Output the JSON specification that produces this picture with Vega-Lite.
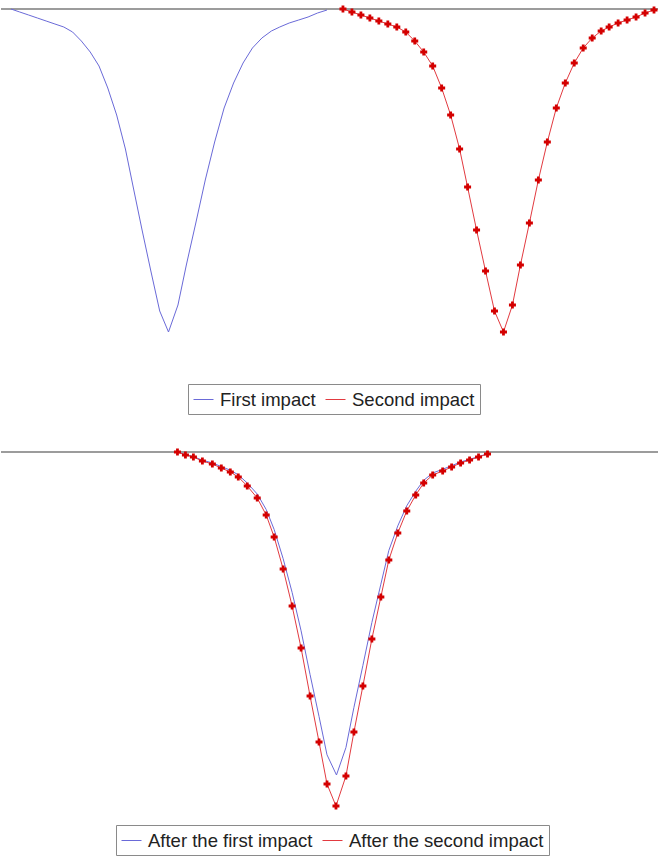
{
  "$schema": "https://vega.github.io/schema/vega-lite/v6.json",
  "width": 659,
  "height": 860,
  "padding": 0,
  "autosize": {"type": "fit", "contains": "padding"},
  "config": {"view": {"strokeWidth": 0}},
  "data": {"values": [
    {"panel": "top", "series": "First impact", "x": 0, "y": 0},
    {"panel": "top", "series": "First impact", "x": 8.8, "y": -3},
    {"panel": "top", "series": "First impact", "x": 17.7, "y": -6},
    {"panel": "top", "series": "First impact", "x": 26.5, "y": -9},
    {"panel": "top", "series": "First impact", "x": 35.3, "y": -12},
    {"panel": "top", "series": "First impact", "x": 44.1, "y": -15},
    {"panel": "top", "series": "First impact", "x": 53, "y": -18},
    {"panel": "top", "series": "First impact", "x": 61.8, "y": -23},
    {"panel": "top", "series": "First impact", "x": 70.6, "y": -32},
    {"panel": "top", "series": "First impact", "x": 79.5, "y": -43},
    {"panel": "top", "series": "First impact", "x": 88.3, "y": -57},
    {"panel": "top", "series": "First impact", "x": 97.1, "y": -79},
    {"panel": "top", "series": "First impact", "x": 106, "y": -106},
    {"panel": "top", "series": "First impact", "x": 114.8, "y": -140},
    {"panel": "top", "series": "First impact", "x": 122.6, "y": -178},
    {"panel": "top", "series": "First impact", "x": 131.5, "y": -221},
    {"panel": "top", "series": "First impact", "x": 140.3, "y": -262},
    {"panel": "top", "series": "First impact", "x": 149.2, "y": -302},
    {"panel": "top", "series": "First impact", "x": 158, "y": -323},
    {"panel": "top", "series": "First impact", "x": 167.5, "y": -296},
    {"panel": "top", "series": "First impact", "x": 175.9, "y": -256},
    {"panel": "top", "series": "First impact", "x": 185.4, "y": -214},
    {"panel": "top", "series": "First impact", "x": 194.9, "y": -171},
    {"panel": "top", "series": "First impact", "x": 204.3, "y": -133},
    {"panel": "top", "series": "First impact", "x": 213.8, "y": -99},
    {"panel": "top", "series": "First impact", "x": 223.3, "y": -74},
    {"panel": "top", "series": "First impact", "x": 232.8, "y": -54},
    {"panel": "top", "series": "First impact", "x": 242.2, "y": -39},
    {"panel": "top", "series": "First impact", "x": 251.7, "y": -29},
    {"panel": "top", "series": "First impact", "x": 261.2, "y": -22},
    {"panel": "top", "series": "First impact", "x": 269.6, "y": -18},
    {"panel": "top", "series": "First impact", "x": 279.1, "y": -14},
    {"panel": "top", "series": "First impact", "x": 288.6, "y": -11},
    {"panel": "top", "series": "First impact", "x": 298, "y": -8},
    {"panel": "top", "series": "First impact", "x": 307.5, "y": -4},
    {"panel": "top", "series": "First impact", "x": 317, "y": -1},
    {"panel": "top", "series": "Second impact", "x": 333, "y": 0},
    {"panel": "top", "series": "Second impact", "x": 342, "y": -3},
    {"panel": "top", "series": "Second impact", "x": 351, "y": -6},
    {"panel": "top", "series": "Second impact", "x": 360, "y": -9},
    {"panel": "top", "series": "Second impact", "x": 369, "y": -12},
    {"panel": "top", "series": "Second impact", "x": 378, "y": -15},
    {"panel": "top", "series": "Second impact", "x": 387, "y": -18},
    {"panel": "top", "series": "Second impact", "x": 396, "y": -23},
    {"panel": "top", "series": "Second impact", "x": 405, "y": -32},
    {"panel": "top", "series": "Second impact", "x": 414, "y": -43},
    {"panel": "top", "series": "Second impact", "x": 423, "y": -57},
    {"panel": "top", "series": "Second impact", "x": 432, "y": -79},
    {"panel": "top", "series": "Second impact", "x": 441, "y": -106},
    {"panel": "top", "series": "Second impact", "x": 450, "y": -140},
    {"panel": "top", "series": "Second impact", "x": 458, "y": -178},
    {"panel": "top", "series": "Second impact", "x": 467, "y": -221},
    {"panel": "top", "series": "Second impact", "x": 476, "y": -262},
    {"panel": "top", "series": "Second impact", "x": 485, "y": -302},
    {"panel": "top", "series": "Second impact", "x": 494, "y": -323},
    {"panel": "top", "series": "Second impact", "x": 503, "y": -296},
    {"panel": "top", "series": "Second impact", "x": 511, "y": -256},
    {"panel": "top", "series": "Second impact", "x": 520, "y": -214},
    {"panel": "top", "series": "Second impact", "x": 529, "y": -171},
    {"panel": "top", "series": "Second impact", "x": 538, "y": -133},
    {"panel": "top", "series": "Second impact", "x": 547, "y": -99},
    {"panel": "top", "series": "Second impact", "x": 556, "y": -74},
    {"panel": "top", "series": "Second impact", "x": 565, "y": -54},
    {"panel": "top", "series": "Second impact", "x": 574, "y": -39},
    {"panel": "top", "series": "Second impact", "x": 583, "y": -29},
    {"panel": "top", "series": "Second impact", "x": 592, "y": -22},
    {"panel": "top", "series": "Second impact", "x": 600, "y": -18},
    {"panel": "top", "series": "Second impact", "x": 609, "y": -14},
    {"panel": "top", "series": "Second impact", "x": 618, "y": -11},
    {"panel": "top", "series": "Second impact", "x": 627, "y": -8},
    {"panel": "top", "series": "Second impact", "x": 636, "y": -4},
    {"panel": "top", "series": "Second impact", "x": 645, "y": -1},
    {"panel": "bottom", "series": "After the first impact", "x": 167, "y": 0},
    {"panel": "bottom", "series": "After the first impact", "x": 175, "y": -2.7},
    {"panel": "bottom", "series": "After the first impact", "x": 183, "y": -4.6},
    {"panel": "bottom", "series": "After the first impact", "x": 192, "y": -8.2},
    {"panel": "bottom", "series": "After the first impact", "x": 202, "y": -10.9},
    {"panel": "bottom", "series": "After the first impact", "x": 211, "y": -14.6},
    {"panel": "bottom", "series": "After the first impact", "x": 220, "y": -18.2},
    {"panel": "bottom", "series": "After the first impact", "x": 228, "y": -22.8},
    {"panel": "bottom", "series": "After the first impact", "x": 237, "y": -31},
    {"panel": "bottom", "series": "After the first impact", "x": 247, "y": -42},
    {"panel": "bottom", "series": "After the first impact", "x": 256, "y": -57.5},
    {"panel": "bottom", "series": "After the first impact", "x": 264, "y": -77.5},
    {"panel": "bottom", "series": "After the first impact", "x": 273, "y": -106.7},
    {"panel": "bottom", "series": "After the first impact", "x": 282, "y": -140.4},
    {"panel": "bottom", "series": "After the first impact", "x": 291, "y": -178.8},
    {"panel": "bottom", "series": "After the first impact", "x": 300, "y": -222.5},
    {"panel": "bottom", "series": "After the first impact", "x": 309, "y": -264.5},
    {"panel": "bottom", "series": "After the first impact", "x": 317, "y": -302.8},
    {"panel": "bottom", "series": "After the first impact", "x": 326.5, "y": -323},
    {"panel": "bottom", "series": "After the first impact", "x": 336, "y": -295.5},
    {"panel": "bottom", "series": "After the first impact", "x": 344, "y": -255.4},
    {"panel": "bottom", "series": "After the first impact", "x": 353, "y": -213.4},
    {"panel": "bottom", "series": "After the first impact", "x": 362, "y": -170.5},
    {"panel": "bottom", "series": "After the first impact", "x": 371, "y": -132.2},
    {"panel": "bottom", "series": "After the first impact", "x": 379, "y": -98.5},
    {"panel": "bottom", "series": "After the first impact", "x": 388, "y": -73.9},
    {"panel": "bottom", "series": "After the first impact", "x": 397, "y": -53.8},
    {"panel": "bottom", "series": "After the first impact", "x": 406, "y": -39.2},
    {"panel": "bottom", "series": "After the first impact", "x": 414, "y": -28.3},
    {"panel": "bottom", "series": "After the first impact", "x": 423, "y": -21},
    {"panel": "bottom", "series": "After the first impact", "x": 433, "y": -17.3},
    {"panel": "bottom", "series": "After the first impact", "x": 442, "y": -13.7},
    {"panel": "bottom", "series": "After the first impact", "x": 451, "y": -10},
    {"panel": "bottom", "series": "After the first impact", "x": 460, "y": -7.3},
    {"panel": "bottom", "series": "After the first impact", "x": 469, "y": -4.6},
    {"panel": "bottom", "series": "After the first impact", "x": 478, "y": -1.8},
    {"panel": "bottom", "series": "After the second impact", "x": 167, "y": 0},
    {"panel": "bottom", "series": "After the second impact", "x": 175, "y": -3},
    {"panel": "bottom", "series": "After the second impact", "x": 183, "y": -5},
    {"panel": "bottom", "series": "After the second impact", "x": 192, "y": -9},
    {"panel": "bottom", "series": "After the second impact", "x": 202, "y": -12},
    {"panel": "bottom", "series": "After the second impact", "x": 211, "y": -16},
    {"panel": "bottom", "series": "After the second impact", "x": 220, "y": -20},
    {"panel": "bottom", "series": "After the second impact", "x": 228, "y": -25},
    {"panel": "bottom", "series": "After the second impact", "x": 237, "y": -34},
    {"panel": "bottom", "series": "After the second impact", "x": 247, "y": -46},
    {"panel": "bottom", "series": "After the second impact", "x": 256, "y": -63},
    {"panel": "bottom", "series": "After the second impact", "x": 264, "y": -85},
    {"panel": "bottom", "series": "After the second impact", "x": 273, "y": -117},
    {"panel": "bottom", "series": "After the second impact", "x": 282, "y": -154},
    {"panel": "bottom", "series": "After the second impact", "x": 291, "y": -196},
    {"panel": "bottom", "series": "After the second impact", "x": 300, "y": -244},
    {"panel": "bottom", "series": "After the second impact", "x": 309, "y": -290},
    {"panel": "bottom", "series": "After the second impact", "x": 317, "y": -332},
    {"panel": "bottom", "series": "After the second impact", "x": 326, "y": -354},
    {"panel": "bottom", "series": "After the second impact", "x": 336, "y": -324},
    {"panel": "bottom", "series": "After the second impact", "x": 344, "y": -280},
    {"panel": "bottom", "series": "After the second impact", "x": 353, "y": -234},
    {"panel": "bottom", "series": "After the second impact", "x": 362, "y": -187},
    {"panel": "bottom", "series": "After the second impact", "x": 371, "y": -145},
    {"panel": "bottom", "series": "After the second impact", "x": 379, "y": -108},
    {"panel": "bottom", "series": "After the second impact", "x": 388, "y": -81},
    {"panel": "bottom", "series": "After the second impact", "x": 397, "y": -59},
    {"panel": "bottom", "series": "After the second impact", "x": 406, "y": -43},
    {"panel": "bottom", "series": "After the second impact", "x": 414, "y": -31},
    {"panel": "bottom", "series": "After the second impact", "x": 423, "y": -23},
    {"panel": "bottom", "series": "After the second impact", "x": 433, "y": -19},
    {"panel": "bottom", "series": "After the second impact", "x": 442, "y": -15},
    {"panel": "bottom", "series": "After the second impact", "x": 451, "y": -11},
    {"panel": "bottom", "series": "After the second impact", "x": 460, "y": -8},
    {"panel": "bottom", "series": "After the second impact", "x": 469, "y": -5},
    {"panel": "bottom", "series": "After the second impact", "x": 478, "y": -2}
  ]},
  "resolve": {"scale": {"y": "independent", "color": "independent"}},
  "layer": [
    {
      "transform": [{"filter": "datum.panel == 'top'"}],
      "mark": {"type": "rule", "color": "#9c9c9c", "strokeWidth": 2},
      "encoding": {
        "y": {"aggregate": "max", "field": "y", "type": "quantitative", "scale": {"domain": [-851, 9], "nice": false, "zero": false}, "axis": null}
      }
    },
    {
      "transform": [{"filter": "datum.panel == 'top'"}],
      "mark": {"type": "line", "strokeWidth": 1},
      "encoding": {
        "x": {"field": "x", "type": "quantitative", "scale": {"domain": [-10, 649], "nice": false, "zero": false}, "axis": null},
        "y": {"field": "y", "type": "quantitative", "scale": {"domain": [-851, 9], "nice": false, "zero": false}, "axis": null},
        "color": {
          "field": "series", "type": "nominal",
          "scale": {"domain": ["First impact", "Second impact"], "range": ["#6a6ad8", "#e23a40"]},
          "legend": {
            "orient": "none", "legendX": 187, "legendY": 384, "direction": "horizontal", "title": null,
            "strokeColor": "#8a8a8a", "fillColor": "white", "padding": 5,
            "labelFont": "Liberation Sans", "labelFontSize": 18.5, "labelColor": "#222222", "labelLimit": 0,
            "labelOffset": 6, "columnPadding": 7, "symbolSize": 400, "symbolStrokeWidth": 1, "symbolType": "stroke"
          }
        }
      }
    },
    {
      "transform": [{"filter": "datum.series == 'Second impact'"}],
      "mark": {"type": "point", "shape": "cross", "filled": true, "size": 49, "color": "#d40000", "opacity": 1},
      "encoding": {
        "x": {"field": "x", "type": "quantitative"},
        "y": {"field": "y", "type": "quantitative", "scale": {"domain": [-851, 9], "nice": false, "zero": false}, "axis": null}
      }
    },
    {
      "transform": [{"filter": "datum.panel == 'bottom'"}],
      "mark": {"type": "rule", "color": "#9c9c9c", "strokeWidth": 2},
      "encoding": {
        "y": {"aggregate": "max", "field": "y", "type": "quantitative", "scale": {"domain": [-408, 452], "nice": false, "zero": false}, "axis": null}
      }
    },
    {
      "transform": [{"filter": "datum.panel == 'bottom'"}],
      "mark": {"type": "line", "strokeWidth": 1},
      "encoding": {
        "x": {"field": "x", "type": "quantitative"},
        "y": {"field": "y", "type": "quantitative", "scale": {"domain": [-408, 452], "nice": false, "zero": false}, "axis": null},
        "color": {
          "field": "series", "type": "nominal",
          "scale": {"domain": ["After the first impact", "After the second impact"], "range": ["#6a6ad8", "#e23a40"]},
          "legend": {
            "orient": "none", "legendX": 115, "legendY": 825, "direction": "horizontal", "title": null,
            "strokeColor": "#8a8a8a", "fillColor": "white", "padding": 5,
            "labelFont": "Liberation Sans", "labelFontSize": 18.5, "labelColor": "#222222", "labelLimit": 0,
            "labelOffset": 6, "columnPadding": 7, "symbolSize": 400, "symbolStrokeWidth": 1, "symbolType": "stroke"
          }
        }
      }
    },
    {
      "transform": [{"filter": "datum.series == 'After the second impact'"}],
      "mark": {"type": "point", "shape": "cross", "filled": true, "size": 49, "color": "#d40000", "opacity": 1},
      "encoding": {
        "x": {"field": "x", "type": "quantitative"},
        "y": {"field": "y", "type": "quantitative", "scale": {"domain": [-408, 452], "nice": false, "zero": false}, "axis": null}
      }
    }
  ]
}
